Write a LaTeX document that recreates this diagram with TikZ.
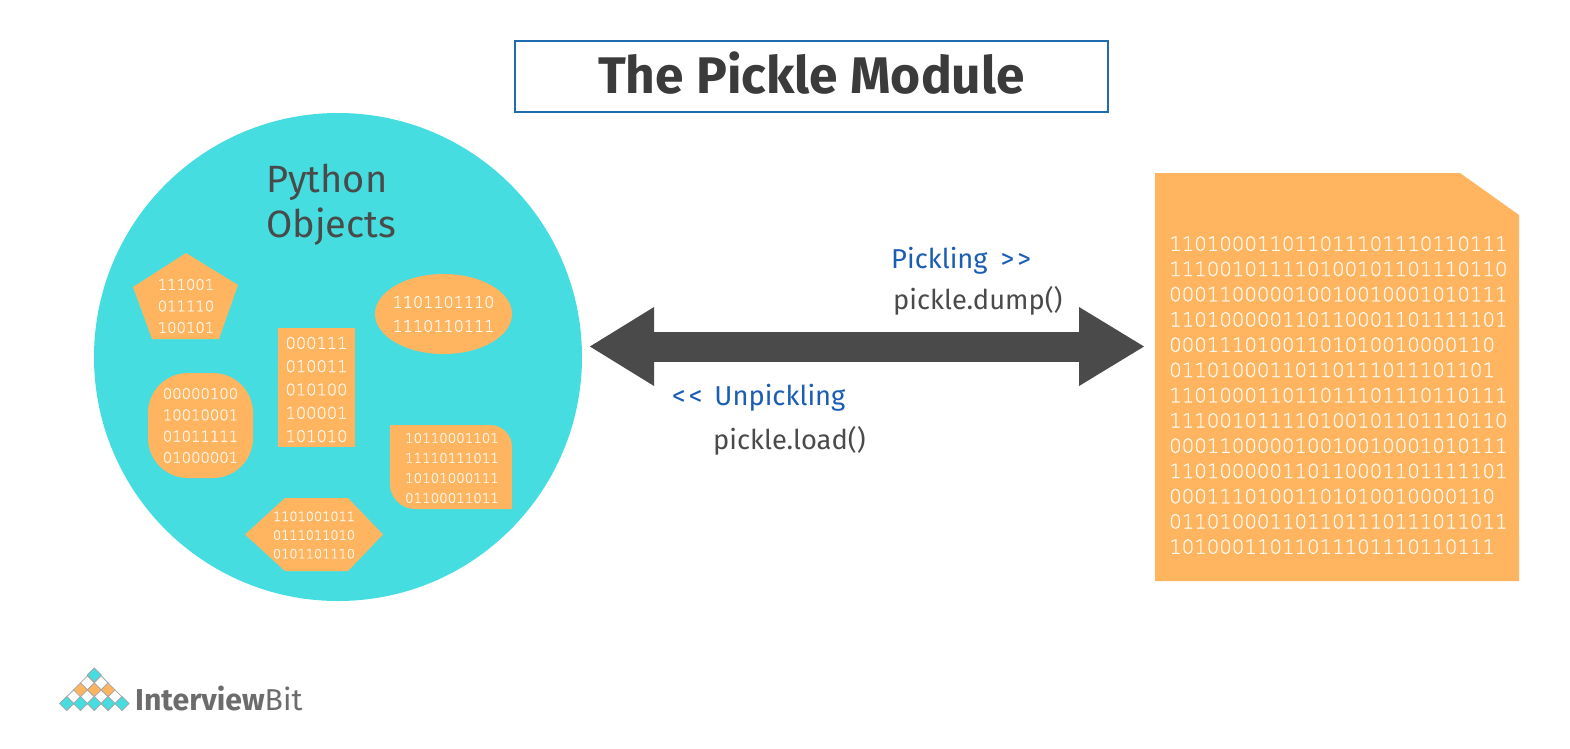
\documentclass[tikz,border=0pt]{standalone}
\usepackage{fontspec}
\usepackage{xcolor}
\setmainfont{Fira Sans}
\newfontfamily\bitfont[FakeBold=0.9]{DejaVu Sans ExtraLight}
\usetikzlibrary{arrows.meta,shapes.geometric}

\definecolor{pyteal}{HTML}{45DDE0}
\definecolor{bitorange}{HTML}{FFB55F}
\definecolor{inkgrey}{HTML}{4A4A4A}
\definecolor{labelblue}{HTML}{1B5DB5}
\definecolor{framblue}{HTML}{1F6DAE}
\definecolor{bitwhite}{HTML}{FFFAF2}

\tikzset{
  bits/.style={text=bitwhite, align=center, inner sep=0pt, fill=bitorange},
  plainbits/.style={text=bitwhite, align=center, inner sep=0pt},
  sidelabel/.style={anchor=west, inner sep=0pt, font=\fontsize{27.3}{31}\selectfont},
  logocell/.style={diamond, draw=gray!70, line width=0.8pt, minimum size=14.5pt, inner sep=0pt}
}

\begin{document}
\begin{tikzpicture}[>=Stealth, x=1pt, y=-1pt]
  \useasboundingbox (0,0) rectangle (1570,748);

  % Title
  \node[draw=framblue, line width=1.4pt, minimum width=593pt, minimum height=71pt,
        text height=37pt, text depth=3pt,
        text=inkgrey!80!black, font=\fontsize{51.5}{58}\selectfont\bfseries] (title) at (811.5,76.5) {The Pickle Module};

  % Python objects
  \node[circle, fill=pyteal, minimum size=488pt, inner sep=0pt] (objects) at (338,357) {};
  \node[anchor=west, align=left, inner sep=0pt, text=inkgrey,
        font=\fontsize{38}{45}\selectfont] (objlabel) at (266,205) {Python\\Objects};

  % Pentagon
  \fill[bitorange] (186,253) -- (238,285) -- (219,339) -- (152,339) -- (133,287) -- cycle;
  \node[plainbits, font=\bitfont\fontsize{14.8}{21.5}\selectfont] (penta) at (186,306) {111001\\011110\\100101};

  % Ellipse
  \node[bits, ellipse, minimum width=137pt, minimum height=80pt] (oval) at (443.5,314) {};
  \node[plainbits, font=\bitfont\fontsize{16}{24}\selectfont] (ovalbits) at (oval) {1101101110\\1110110111};

  % Column
  \node[bits, minimum width=77pt, minimum height=119pt] (column) at (316.5,387.5) {};
  \node[plainbits, font=\bitfont\fontsize{16.2}{23.3}\selectfont] (columnbits) at (316.5,389.5) {000111\\010011\\010100\\100001\\101010};

  % Rounded square
  \node[bits, rounded corners=40pt, minimum width=105pt, minimum height=105pt,
        font=\bitfont\fontsize{14.8}{21.3}\selectfont] (blob) at (200.5,425.5) {00000100\\10010001\\01011111\\01000001};

  % Leaf
  \fill[bitorange] (390,425) -- (490,425) arc (-90:0:22)
    -- (512,509) -- (415,509) arc (90:180:25) -- cycle;
  \node[plainbits, font=\bitfont\fontsize{13.4}{20}\selectfont] (leaf) at (452,468) {10110001101\\11110111011\\10101000111\\01100011011};

  % Hexagon
  \fill[bitorange] (245,534.5) -- (285,498) -- (348,498) -- (383,534.5) -- (348,571) -- (285,571) -- cycle;
  \node[plainbits, font=\bitfont\fontsize{12.9}{18.7}\selectfont] (hexa) at (314,535) {1101001011\\0111011010\\0101101110};

  % Pickle file
  \fill[bitorange] (1155,173) -- (1460,173) -- (1519,215) -- (1519,581) -- (1155,581) -- cycle;
  \node[plainbits, align=left, anchor=north west, font=\bitfont\fontsize{19.7}{25.25}\selectfont] (filebits) at (1169,236) {%
    110100011011011101110110111\\
    111001011110100101101110110\\
    000110000010010010001010111\\
    110100000110110001101111101\\
    00011101001101010010000110\\
    01101000110110111011101101\\
    110100011011011101110110111\\
    111001011110100101101110110\\
    000110000010010010001010111\\
    110100000110110001101111101\\
    00011101001101010010000110\\
    011010001101101110111011011\\
    10100011011011101110110111};

  % Double arrow
  \coordinate (leftend) at (589,346.5);
  \coordinate (rightend) at (1145,346.5);
  \draw[{Triangle[length=65pt,width=74pt]}-{Triangle[length=66pt,width=74pt]}, line width=30pt, inkgrey]
    (leftend) -- (rightend);

  % Arrow labels
  \node[sidelabel, text=labelblue] (pickling) at (891,261) {Pickling\kern13pt>\kern3pt>};
  \node[sidelabel, text=inkgrey] (dump) at (893,301) {pickle.dump()};
  \node[sidelabel, text=labelblue] (unpickling) at (672,398) {<\kern3pt<\kern12pt Unpickling};
  \node[sidelabel, text=inkgrey] (load) at (713,441) {pickle.load()};

  % Logo
  \foreach \cx/\cy/\cellcol [count=\i] in {94.3/675/pyteal,
      87.4/683/white, 101.2/683/white,
      80.5/690/bitorange, 94.3/690/bitorange, 108.1/690/bitorange,
      73.6/697/white, 87.4/697/white, 101.2/697/white, 115/697/white,
      66.7/703.5/pyteal, 80.5/703.5/pyteal, 94.3/703.5/pyteal, 108.1/703.5/pyteal, 122/703.5/pyteal}
    \node[logocell, fill=\cellcol] (cell\i) at (\cx,\cy) {};
  \node[anchor=west, inner sep=0pt, text=gray!85!black,
        font=\fontsize{30.2}{36}\selectfont] (brand) at (135,698) {\textbf{Interview}Bit};
\end{tikzpicture}
\end{document}
